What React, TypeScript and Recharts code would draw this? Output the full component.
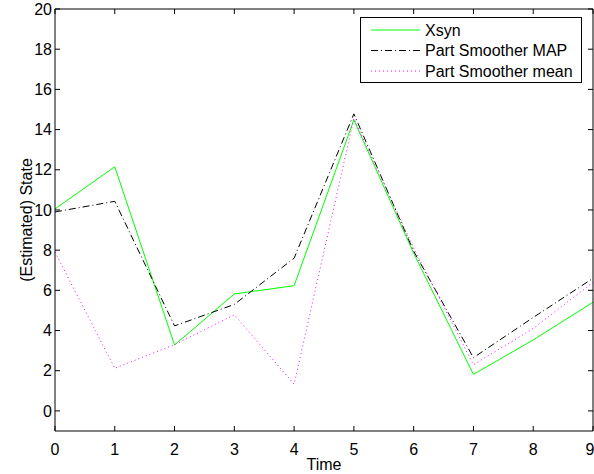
import { LineChart, Line, XAxis, YAxis, Legend } from 'recharts'

const time = [0, 1, 2, 3, 4, 5, 6, 7, 8, 9]
const xsyn = [10.05, 12.15, 3.28, 5.82, 6.23, 14.48, 7.85, 1.82, 3.53, 5.41]
const smootherMap = [9.9, 10.43, 4.23, 5.3, 7.6, 14.78, 7.95, 2.65, 4.65, 6.6]
const smootherMean = [7.9, 2.12, 3.3, 4.78, 1.33, 14.55, 8.1, 2.3, 4.1, 6.4]

const xTicks = [0, 1, 2, 3, 4, 5, 6, 7, 8, 9]
const yTicks = [0, 2, 4, 6, 8, 10, 12, 14, 16, 18, 20]

const series = [
  { key: 'xsyn', name: 'Xsyn', color: '#00ff00', dash: undefined },
  { key: 'map', name: 'Part Smoother MAP', color: '#000000', dash: '7 3 1 3' },
  { key: 'mean', name: 'Part Smoother mean', color: '#ff00ff', dash: '1 3' },
]

const data = time.map((t, i) => ({ t, xsyn: xsyn[i], map: smootherMap[i], mean: smootherMean[i] }))

const FONT = '"Liberation Sans", Arial, Helvetica, sans-serif'
const tickStyle = { fontSize: 16, fill: '#000', fontFamily: FONT }

function LegendBox() {
  return (
    <svg width={222} height={66} style={{ display: 'block', background: '#fff' }}>
      <rect x={0.5} y={0.5} width={221} height={65} fill="#fff" stroke="#000" />
      {series.map((s, i) => {
        const y = 13 + i * 20.5
        return (
          <g key={s.key}>
            <line x1={11} x2={60} y1={y} y2={y} stroke={s.color} strokeWidth={1} strokeDasharray={s.dash} />
            <text x={65} y={y} dy="0.35em" fontSize={16} fontFamily={FONT} fill="#000">{s.name}</text>
          </g>
        )
      })}
    </svg>
  )
}

// y label sits in the left gutter, rotated
function YLabel() {
  return (
    <text transform="translate(32,220) rotate(-90)" textAnchor="middle" fontSize={16} fontFamily={FONT} fill="#000">
      (Estimated) State
    </text>
  )
}

export default function App() {
  return (
    <div style={{ position: 'absolute', left: 0, top: 0, fontFamily: FONT }}>
      <LineChart width={594} height={474} data={data} margin={{ top: 8, right: 0, left: 0, bottom: 0 }}>
        <XAxis
          dataKey="t"
          type="number"
          domain={[0, 9]}
          ticks={xTicks}
          xAxisId="bottom"
          height={43}
          tickSize={-5}
          tickMargin={18}
          tick={tickStyle}
          stroke="#000"
          label={{ value: 'Time', position: 'insideBottom', offset: 4, fontSize: 16, fill: '#000', fontFamily: FONT }}
        />
        <XAxis
          dataKey="t"
          type="number"
          domain={[0, 9]}
          ticks={xTicks}
          xAxisId="top"
          orientation="top"
          height={1}
          tickSize={-5}
          tickFormatter={() => ''}
          stroke="#000"
        />
        <YAxis
          yAxisId="left"
          type="number"
          domain={[-1, 20]}
          ticks={yTicks}
          width={55}
          tickSize={-5}
          tickMargin={8}
          tick={tickStyle}
          stroke="#000"
          label={<YLabel />}
        />
        <YAxis
          yAxisId="right"
          orientation="right"
          type="number"
          domain={[-1, 20]}
          ticks={yTicks}
          width={1}
          tickSize={-5}
          tickFormatter={() => ''}
          stroke="#000"
        />
        <Legend
          layout="vertical"
          align="center"
          verticalAlign="middle"
          wrapperStyle={{ left: 360, top: 17, width: 222 }}
          content={() => <LegendBox />}
        />
        {/* invisible copy so the top/right frame axes get a domain and draw */}
        <Line
          xAxisId="top"
          yAxisId="right"
          dataKey="xsyn"
          stroke="none"
          dot={false}
          activeDot={false}
          legendType="none"
          isAnimationActive={false}
        />
        {series.map((s) => (
          <Line
            key={s.key}
            xAxisId="bottom"
            yAxisId="left"
            type="linear"
            dataKey={s.key}
            name={s.name}
            stroke={s.color}
            strokeWidth={1}
            strokeDasharray={s.dash}
            dot={false}
            activeDot={false}
            isAnimationActive={false}
          />
        ))}
      </LineChart>
    </div>
  )
}
